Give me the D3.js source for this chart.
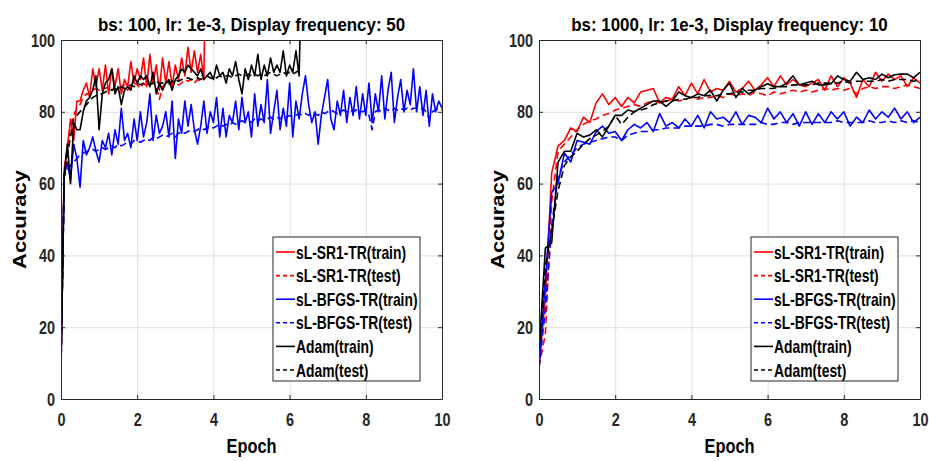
<!DOCTYPE html>
<html>
<head>
<meta charset="utf-8">
<script src="https://cdn.jsdelivr.net/npm/d3@7"></script>
<style>
  body { margin: 0; background: #fff; }
  svg { display: block; }
</style>
</head>
<body>
<svg width="929" height="461"></svg>
<script>
// ---- data ----
// left: bs 100, one point every 1/12 epoch
var leftStep = 1 / 12;
var leftSr1Train = [9,64,70,78,72,83,83,86,88,84,92,87,92,86,93,85,92,87,92,85,89,87,94,88,92,89,95,87,96,88,93,86,95,88,94,87,93,89,95,90,98,91,97,91,96,89,150];
var leftSr1Test = [9,63,70,76,79,81,82,84,85,85,86,86.5,86,87,86.5,87,86,87,86.5,87,87.5,86,87,88,87.5,86.5,88,87,87.5,88,87,83.5,87,88,87.5,88,88.5,87.5,88,89,88.5,89,88,89,88.5,89];
var leftBfgsTrain = [9,62,66,61,71,67,59,72,68,70,
  73,69,66,72,70,74,68,75,71,81,
  72,74,70,78,72,80,73,77,85,72,
  79,74,76,80,73,83,67,78,74,83,
  76,82,75,71,76,83,74,80,77,84,
  73,81,73,79,77,83,75,84,77,80,
  73,85,76,82,77,89,74,80,86,75,
  81,76,88,73,83,78,85,90,82,77,
  80,71,79,84,89,78,75,83,79,86,
  77,84,79,87,78,85,79,88,77,85,
  80,90,78,86,91,77,84,89,80,86,
  82,92,80,87,79,86,76,85,80,83,81];
var leftBfgsTest = [9,62,64,65,66,67,68,68.5,69,69,
  69.5,69,69.5,70,69.5,70,70.5,70,71,70.5,
  71,71.5,71,72,72,71.5,72,72.5,72,73,
  72.5,73,73.5,73,73.5,74,73,74,74.5,74,
  74.5,75,74.5,75,75.5,75,75.5,76,75.5,76,
  76.5,76,76.5,76,77,76.5,77,77.5,77,77.5,
  77,78,77.5,78,77.5,78,78.5,78,78.5,78,
  79,78.5,79,78.5,79,79.5,79,79.5,79,80,
  79.5,79,80,79.5,80,80.5,80,79.5,80,80.5,
  80,80.5,80,80.5,80,80,80.5,79,75,80,
  80.5,80,81,80.5,80,81,80.5,81,80.5,81,
  80.5,81,81,80.5,81,80,78,80,80.5,81,80.5];
var leftAdamTrain = [9,62,71,60,77,75,75,80,83,84,
  86,90,75,85,88,89,92,85,87,82,
  86,87,86,90,88,90,89,90,87,91,
  85,88,86,88,89,86,89,90,92,91,
  93,92,91,90,92,89,90,91,89,93,
  90,91,88,92,90,94,89,85,92,89,
  93,90,96,89,93,90,95,91,93,91,
  97,90,93,91,97,90,130];
var leftAdamTest = [9,62,68,73,78,79,80,81,82,83,
  84,84.5,85,85,85.5,86,86,86.5,86,87,
  86.5,87,87.5,87,88,87.5,88,88,87.5,88,
  88.5,88,88,88.5,88,88.5,89,88.5,89,89,
  89.5,89,89,89.5,89,89.5,90,89.5,89,89.5,
  90,89.5,90,90,89.5,90,90.5,90,90,90.5,
  90,90.5,90,90.5,90,90.5,91,90.5,90,90.5,
  91,90.5,91,90.5,91,91.5];

// right: bs 1000, one point every 1/6 epoch
var rightStep = 1 / 6;
var rightSr1Train = [9,28,63,70.5,72,75.5,74.5,78.5,77,82.5,
  85,82,84,81.5,84,82.5,85.5,86,86.5,82.5,
  84,83.5,87,84.5,88,85,89,85.5,86.5,86,
  88.5,85.5,86.5,88.5,86,87.5,89.5,87,90,87.5,
  89,87.5,87,88,89,86,90,87,89.5,88,
  84,89,87,91,88.5,90.5,89,90,87,89.5,88];
var rightSr1Test = [9,18,55,69,71,73,75,76.5,77.5,78,
  79,79.5,80.5,81,81.5,82,81.5,82.5,83,82.5,
  83,83.5,83,83.5,84,83.5,84,84,84.5,84,
  85,84.5,85,84.5,85.5,85,84.5,85.5,85,85.5,
  86,85.5,86,85.5,86,86.5,86,86.5,86,86.5,
  85,86.5,87,86.5,87,87,86.5,87,87.5,87,86.5];
var rightBfgsTrain = [8.5,33,57.5,60,68.5,66,72,71.5,71,74.5,
  76,74,74.5,72,75,76.5,75.5,77,74.5,79.5,
  76,77,75.5,78,76,79,75.5,80,78,78.5,
  77,80,76.5,79,78.5,77,81,78,80,77,
  79.5,76,80,76.5,79.5,77,80,78,80,76,
  78.5,77,80.5,78,80,78.5,81,78,80,77,78.5];
var rightBfgsTest = [8.5,25,48,62,66,68,70,71,71.5,72,
  72.5,73,73,72,73.5,74,74.5,74.5,75,75,
  75.5,75.5,75.5,76,76,76,76,76.5,76.5,76,
  76.5,76.5,76.5,76.5,76.5,77,76.5,76.5,77,77,
  76.5,77,77,77,77,77,77,77.5,77,77,
  77,77,77.5,77,77,77.5,77,77.5,77,77.5,77];
var rightAdamTrain = [13,42,43.5,66,69,69,74,73,73.5,75,
  73,76,79,79,80.5,80,81,82,83,83,
  81.5,83,85.5,84.5,84,85,84.5,86,83,86,
  88,84,86.5,85,86,87,87.8,87,87,88,
  90,87.5,88,88.5,87.5,87.5,87.8,90,89,88.5,
  91,89,89.5,89,90.5,89.5,90.3,90.5,90.5,89.5,91];
var rightAdamTest = [13,37,47,58,65,67.5,69,71,72.5,73.5,
  74.5,76,79,76.5,78.5,80,80.5,81,82,82.5,
  83,83,83.5,83.5,84,84,84.5,84.5,84.5,85,
  85,85.5,85.5,86,86,86.5,86.5,86.5,87,87,
  87.5,87.5,87.5,87.5,88,88,88,88,88.5,88,
  88.5,88.5,88.5,88.5,89,88.5,89,89,89,88.5,89];

var legendNames = ["sL-SR1-TR(train)", "sL-SR1-TR(test)", "sL-BFGS-TR(train)", "sL-BFGS-TR(test)", "Adam(train)", "Adam(test)"];
var seriesColors = ["#ff0000", "#ff0000", "#0000ff", "#0000ff", "#000000", "#000000"];
var seriesDashed = [false, true, false, true, false, true];
var xTicks = [0, 2, 4, 6, 8, 10];
var yTicks = [0, 20, 40, 60, 80, 100];

// ---- drawing ----
var FONT = "'Liberation Sans', Arial, Helvetica, sans-serif";
var svg = d3.select("svg");
var W = 381, H = 359;

function label(parent, str, x, y, size, squeeze, anchor, vertical) {
  var tf = "translate(" + x + "," + y + ")" +
    (vertical ? " rotate(-90) scale(1," + squeeze + ")" : " scale(" + squeeze + ",1)");
  return parent.append("text")
    .attr("transform", tf)
    .attr("text-anchor", anchor || "start")
    .attr("font-family", FONT)
    .attr("font-weight", "bold")
    .attr("font-size", size)
    .attr("fill", "#000")
    .text(str);
}

function drawPanel(left, id, title, step, series) {
  var g = svg.append("g").attr("transform", "translate(" + left + ",40)");

  var x = d3.scaleLinear().domain([0, 10]).range([0, W]);
  var y = d3.scaleLinear().domain([0, 100]).range([H, 0]);

  // grid
  g.append("g")
    .attr("transform", "translate(0," + H + ")")
    .call(d3.axisBottom(x).tickValues(xTicks).tickSize(-H).tickFormat(""))
    .call(function(s) { s.select(".domain").remove(); s.selectAll("line").attr("stroke", "#dfdfdf"); });
  g.append("g")
    .call(d3.axisLeft(y).tickValues(yTicks).tickSize(-W).tickFormat(""))
    .call(function(s) { s.select(".domain").remove(); s.selectAll("line").attr("stroke", "#dfdfdf"); });

  // clip
  svg.append("defs").append("clipPath").attr("id", "clip" + id)
    .append("rect").attr("width", W).attr("height", H);

  var line = d3.line()
    .x(function(d, i) { return x(i * step); })
    .y(function(d) { return y(d); });

  var plot = g.append("g").attr("clip-path", "url(#clip" + id + ")");
  series.forEach(function(vals, k) {
    plot.append("path")
      .attr("d", line(vals))
      .attr("fill", "none")
      .attr("stroke", seriesColors[k])
      .attr("stroke-width", 1.6)
      .attr("stroke-linejoin", "round")
      .attr("stroke-dasharray", seriesDashed[k] ? "7,4" : null);
  });

  // axes (box with inward ticks)
  function styleAxis(s) {
    s.attr("font-family", FONT).attr("font-size", 19).attr("font-weight", "bold");
    s.select(".domain").attr("stroke", "#262626");
    s.selectAll(".tick line").attr("stroke", "#262626");
    s.selectAll("text").attr("fill", "#262626");
  }
  var sq = 0.76;
  g.append("g")
    .attr("transform", "translate(0," + H + ")")
    .call(d3.axisBottom(x).tickValues(xTicks).tickSizeInner(-4).tickSizeOuter(0).tickPadding(13.5))
    .call(styleAxis)
    .call(function(s) { s.selectAll("text").attr("transform", "scale(" + sq + ",1)"); });
  g.append("g")
    .call(d3.axisLeft(y).tickValues(yTicks).tickSizeInner(-4).tickSizeOuter(0).tickPadding(6 / sq))
    .call(styleAxis)
    .call(function(s) { s.selectAll("text").attr("transform", "scale(" + sq + ",1)"); });
  g.append("g")
    .call(d3.axisTop(x).tickValues(xTicks).tickSizeInner(-4).tickSizeOuter(0).tickFormat(""))
    .call(styleAxis);
  g.append("g")
    .attr("transform", "translate(" + W + ",0)")
    .call(d3.axisRight(y).tickValues(yTicks).tickSizeInner(-4).tickSizeOuter(0).tickFormat(""))
    .call(styleAxis);

  // labels
  label(g, title, W / 2, -9, 19, 0.89, "middle");
  label(g, "Epoch", W / 2, 413, 20, 0.82, "middle");
  label(g, "Accuracy", -35, H / 2, 22, 0.8, "middle", true);

  // legend
  var lx = 212, ly = 197, lw = 147, lh = 144;
  var lg = g.append("g").attr("transform", "translate(" + lx + "," + ly + ")");
  lg.append("rect").attr("width", lw).attr("height", lh)
    .attr("fill", "#fff").attr("stroke", "#262626").attr("stroke-width", 1);
  legendNames.forEach(function(name, k) {
    var cy = 15 + k * 23.6;
    lg.append("line")
      .attr("x1", 3).attr("x2", 22).attr("y1", cy).attr("y2", cy)
      .attr("stroke", seriesColors[k]).attr("stroke-width", 1.6)
      .attr("stroke-dasharray", seriesDashed[k] ? "4,3" : null);
    label(lg, name, 23, cy + 6.5, 18, 0.77, "start");
  });
}

drawPanel(61, "L", "bs: 100, lr: 1e-3, Display frequency: 50", leftStep,
  [leftSr1Train, leftSr1Test, leftBfgsTrain, leftBfgsTest, leftAdamTrain, leftAdamTest]);
drawPanel(539, "R", "bs: 1000, lr: 1e-3, Display frequency: 10", rightStep,
  [rightSr1Train, rightSr1Test, rightBfgsTrain, rightBfgsTest, rightAdamTrain, rightAdamTest]);
</script>
</body>
</html>
